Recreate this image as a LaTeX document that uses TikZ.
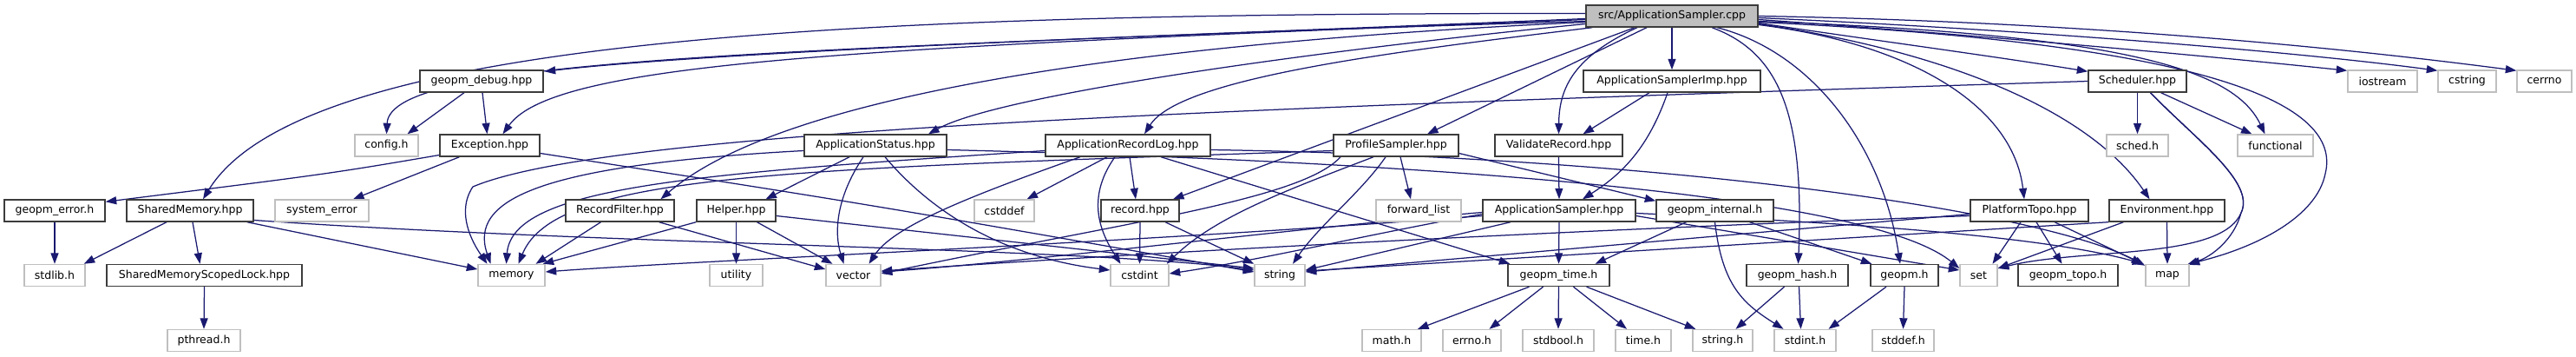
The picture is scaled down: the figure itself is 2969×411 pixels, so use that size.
\documentclass[tikz,border=0pt]{standalone}
\usepackage{fontspec}
\setmainfont{DejaVu Sans}
\usetikzlibrary{arrows.meta}
\definecolor{docb}{HTML}{3C3C3C}
\definecolor{extb}{HTML}{BFBFBF}
\definecolor{rootf}{HTML}{BFBFBF}
\definecolor{edgec}{HTML}{191970}
\pgfdeclarelayer{bg}
\pgfsetlayers{bg,main}
\tikzset{
  nbase/.style={rectangle, fill=white, line width=1.4pt, minimum height=25pt, inner sep=0pt, font=\fontsize{12.5}{14}\selectfont, text=black},
  doc/.style={nbase, draw=docb},
  ext/.style={nbase, draw=extb},
  rootn/.style={nbase, draw=docb, fill=rootf},
  e/.style={draw=edgec, line width=1.25pt, -{Triangle[length=12.5pt,width=9pt]}, fill=none}
}
\begin{document}
\begin{tikzpicture}[x=1pt,y=-1pt]
\useasboundingbox (0,0) rectangle (2969,411);
% row 0
\node[rootn, minimum width=198pt] (src) at (1927,18.5) {src/ApplicationSampler.cpp};
% row 1
\node[doc, minimum width=142pt] (gd) at (555,93.5) {geopm\_debug.hpp};
\node[doc, minimum width=204pt] (asi) at (1927,93.5) {ApplicationSamplerImp.hpp};
\node[doc, minimum width=113pt] (sc) at (2463.5,93.5) {Scheduler.hpp};
\node[ext, minimum width=80pt] (iostream) at (2746,93.5) {iostream};
\node[ext, minimum width=67pt] (cstring) at (2843.5,93.5) {cstring};
\node[ext, minimum width=63pt] (cerrno) at (2932.5,93.5) {cerrno};
% row 2
\node[ext, minimum width=73pt] (config) at (445.5,167.5) {config.h};
\node[doc, minimum width=115pt] (ex) at (564.5,167.5) {Exception.hpp};
\node[doc, minimum width=164pt] (as) at (1009,167.5) {ApplicationStatus.hpp};
\node[doc, minimum width=190pt] (arl) at (1300,167.5) {ApplicationRecordLog.hpp};
\node[doc, minimum width=144pt] (ps) at (1609,167.5) {ProfileSampler.hpp};
\node[doc, minimum width=147pt] (vr) at (1796.5,167.5) {ValidateRecord.hpp};
\node[ext, minimum width=71pt] (sched) at (2463.5,167.5) {sched.h};
\node[ext, minimum width=87pt] (functional) at (2622.5,167.5) {functional};
% row 3
\node[doc, minimum width=116pt] (geopmerror) at (63,242.5) {geopm\_error.h};
\node[doc, minimum width=146pt] (sm) at (219,242.5) {SharedMemory.hpp};
\node[ext, minimum width=108pt] (syserr) at (371,242.5) {system\_error};
\node[doc, minimum width=125pt] (rf) at (714.5,242.5) {RecordFilter.hpp};
\node[doc, minimum width=91pt] (hp) at (848.5,242.5) {Helper.hpp};
\node[ext, minimum width=69pt] (cstddef) at (1157.5,242.5) {cstddef};
\node[doc, minimum width=90pt] (rh) at (1314,242.5) {record.hpp};
\node[ext, minimum width=98pt] (forwardlist) at (1635,242.5) {forward\_list};
\node[doc, minimum width=176pt] (ash) at (1797,242.5) {ApplicationSampler.hpp};
\node[doc, minimum width=135pt] (gi) at (1976.5,242.5) {geopm\_internal.h};
\node[doc, minimum width=136pt] (pt) at (2339,242.5) {PlatformTopo.hpp};
\node[doc, minimum width=133pt] (en) at (2497.5,242.5) {Environment.hpp};
% row 4
\node[ext, minimum width=70pt] (stdlib) at (63,317) {stdlib.h};
\node[doc, minimum width=225pt] (smsl) at (235.5,317) {SharedMemoryScopedLock.hpp};
\node[ext, minimum width=77pt] (memory) at (589.5,317) {memory};
\node[ext, minimum width=61pt] (utility) at (848.5,317) {utility};
\node[ext, minimum width=63pt] (vector) at (983.5,317) {vector};
\node[ext, minimum width=67pt] (cstdint) at (1313.5,317) {cstdint};
\node[ext, minimum width=58pt] (string) at (1475,317) {string};
\node[doc, minimum width=117pt] (gt) at (1796.5,317) {geopm\_time.h};
\node[doc, minimum width=117pt] (gh) at (2071.5,317) {geopm\_hash.h};
\node[doc, minimum width=78pt] (gm) at (2195,317) {geopm.h};
\node[ext, minimum width=43pt] (set) at (2280.5,317) {set};
\node[doc, minimum width=115pt] (geopmtopo) at (2383.5,317) {geopm\_topo.h};
\node[ext, minimum width=50pt] (map) at (2498,317) {map};
% row 5
\node[ext, minimum width=84pt] (pthread) at (235,392) {pthread.h};
\node[ext, minimum width=68pt] (math) at (1604,392) {math.h};
\node[ext, minimum width=67pt] (errno) at (1696.5,392) {errno.h};
\node[ext, minimum width=82pt] (stdbool) at (1796,392) {stdbool.h};
\node[ext, minimum width=64pt] (timeh) at (1894,392) {time.h};
\node[ext, minimum width=69pt] (stringh) at (1985.5,392) {string.h};
\node[ext, minimum width=71pt] (stdint) at (2080.5,392) {stdint.h};
\node[ext, minimum width=71pt] (stddef) at (2193.5,392) {stddef.h};

\begin{pgfonlayer}{bg}
% from src
\draw[e] ([yshift=-6pt]src.west) .. controls (1300,40) and (800,62) .. ([xshift=1pt,yshift=-2pt]gd.north east);
\draw[e] ([yshift=-3pt]src.west) .. controls (900,60) and (450,65) .. (config.north);
\draw[e] ([yshift=-4pt]src.west) .. controls (1000,55) and (640,70) .. ([xshift=15pt]ex.north);
\draw[e] ([yshift=3pt]src.west) .. controls (1000,15) and (350,40) .. ([xshift=15pt]sm.north);
\draw[e] ([yshift=-9pt]src.west) .. controls (1500,60) and (1150,110) .. ([xshift=61pt]as.north);
\draw[e] ([xshift=8pt]src.south west) .. controls (1600,60) and (1360,90) .. ([xshift=19pt]arl.north);
\draw[e] ([yshift=-7pt]src.west) .. controls (1300,50) and (900,110) .. ([xshift=47pt]rf.north);
\draw[e] ([xshift=-43pt]src.south) -- ([xshift=38pt]rh.north);
\draw[e] ([xshift=-29pt]src.south) -- ([xshift=36pt]ps.north);
\draw[e] (src.south) -- (asi.north);
\draw[e] ([xshift=-40pt]src.south) .. controls (1815,65) and (1797,100) .. (vr.north);
\draw[e] ([xshift=46pt]src.south) .. controls (2050,60) and (2080,130) .. ([xshift=1pt]gh.north);
\draw[e] ([xshift=52pt]src.south) .. controls (2090,60) and (2170,170) .. ([xshift=-5pt]gm.north);
\draw[e] ([yshift=-10pt]src.east) .. controls (2200,50) and (2320,120) .. ([xshift=-6pt]pt.north);
\draw[e] ([yshift=-9pt]src.east) .. controls (2250,60) and (2410,130) .. ([xshift=-20pt]en.north);
\draw[e] ([yshift=-8pt]src.east) .. controls (2150,45) and (2300,65) .. ([yshift=-2pt]sc.north west);
\draw[e] ([yshift=-6pt]src.east) .. controls (2450,40) and (2575,80) .. ([xshift=-12pt]functional.north);
\draw[e] ([yshift=-4pt]src.east) .. controls (2300,42) and (2550,65) .. ([yshift=-1pt]iostream.north west);
\draw[e] ([yshift=-2pt]src.east) .. controls (2350,35) and (2650,60) .. ([yshift=-1pt]cstring.north west);
\draw[e] (src.east) .. controls (2400,25) and (2700,55) .. ([yshift=-1pt]cerrno.north west);
\draw[e] ([yshift=-7pt]src.east) .. controls (2550,50) and (2700,120) .. (2680,200) .. controls (2670,250) and (2600,285) .. ([xshift=-1pt]map.north east);
% Scheduler
\draw[e] (sc.south) -- (sched.north);
\draw[e] ([xshift=27pt]sc.south) -- ([xshift=-27pt]functional.north);
\draw[e] ([xshift=15pt]sc.south) .. controls (2530,160) and (2600,210) .. (2583,245) .. controls (2575,275) and (2550,295) .. ([xshift=-3pt,yshift=-1pt]map.north east);
\draw[e] ([xshift=15pt]sc.south) .. controls (2530,160) and (2600,210) .. (2583,245) .. controls (2560,300) and (2400,285) .. ([yshift=8pt]set.east);
\draw[e] (sc.west) .. controls (1400,125) and (700,150) .. (545,215) .. controls (525,245) and (545,280) .. ([xshift=-28pt]memory.north);
% geopm_debug
\draw[e] ([xshift=-20pt]gd.south) -- ([xshift=24pt]config.north);
\draw[e] ([xshift=1pt]gd.south) -- ([xshift=-3pt]ex.north);
% Exception
\draw[e] ([yshift=-11pt]ex.west) .. controls (380,200) .. ([yshift=-3pt]geopmerror.north east);
\draw[e] ([xshift=-35pt]ex.south) -- ([xshift=36pt]syserr.north);
\draw[e] ([yshift=-9pt]ex.east) .. controls (1000,235) .. ([yshift=4pt]string.west);
% SharedMemory
\draw[e] ([xshift=-27pt]sm.south) -- ([xshift=-2pt]stdlib.north east);
\draw[e] ([xshift=3pt]sm.south) -- ([xshift=-5pt]smsl.north);
\draw[e] ([xshift=-8pt]sm.south east) -- ([yshift=7pt]memory.west);
\draw[e] ([yshift=-11pt]sm.east) .. controls (700,282) and (1250,285) .. ([yshift=6pt]string.west);
\draw[e] (geopmerror.south) -- (stdlib.north);
\draw[e] (smsl.south) -- (pthread.north);
% RecordFilter
\draw[e] ([xshift=-22pt]rf.south) -- ([xshift=28pt]memory.north);
\draw[e] ([xshift=45pt]rf.south) -- ([yshift=7pt]vector.west);
% Helper
\draw[e] (hp.south) -- (utility.north);
\draw[e] ([xshift=24pt]hp.south) -- ([xshift=-24pt]vector.north);
\draw[e] ([yshift=-6pt]hp.east) -- ([yshift=8pt]string.west);
\draw[e] (hp.south west) -- ([xshift=-3pt]memory.north east);
% ApplicationStatus
\draw[e] ([xshift=-30pt]as.south) -- ([xshift=34pt]hp.north);
\draw[e] ([xshift=-14pt]as.south) .. controls (962,230) and (962,270) .. ([xshift=-11pt]vector.north);
\draw[e] ([xshift=11pt]as.south) .. controls (1070,240) and (1150,295) .. ([yshift=6pt]cstdint.west);
\draw[e] ([yshift=-5pt]as.east) .. controls (1600,185) and (2150,220) .. ([yshift=8pt]set.west);
\draw[e] ([yshift=-6pt]as.west) .. controls (620,190) and (540,230) .. ([xshift=-24pt]memory.north);
% ApplicationRecordLog
\draw[e] ([xshift=-55pt]arl.south) .. controls (1120,225) and (1030,260) .. ([xshift=18pt]vector.north);
\draw[e] ([xshift=-24pt]arl.south) -- ([xshift=26pt]cstddef.north);
\draw[e] ([xshift=-15pt]arl.south) .. controls (1250,230) and (1270,270) .. ([xshift=-22pt]cstdint.north);
\draw[e] ([xshift=2pt]arl.south) -- ([xshift=-5pt]rh.north);
\draw[e] ([xshift=38pt]arl.south) -- ([xshift=3pt]gt.north west);
\draw[e] ([yshift=-5pt]arl.east) .. controls (1900,180) and (2350,240) .. ([yshift=-2pt]map.north west);
\draw[e] ([yshift=-6pt]arl.west) .. controls (800,200) and (590,215) .. ([xshift=-6pt]memory.north);
% record
\draw[e] (rh.south) -- (cstdint.north);
\draw[e] ([xshift=29pt]rh.south) -- (string.north west);
% ProfileSampler
\draw[e] ([xshift=5pt]ps.south) -- ([xshift=-9pt]forwardlist.north);
\draw[e] ([xshift=-12pt]ps.south) .. controls (1570,220) and (1520,260) .. ([xshift=15pt]string.north);
\draw[e] ([xshift=-26pt]ps.south) .. controls (1480,220) and (1400,250) .. ([xshift=-3pt]cstdint.north east);
\draw[e] ([xshift=-64pt]ps.south) .. controls (1500,230) and (1300,255) .. ([yshift=2pt]vector.east);
\draw[e] ([yshift=-9pt]ps.east) -- ([yshift=-2pt]gi.north west);
\draw[e] ([yshift=-6pt]ps.west) .. controls (900,195) and (640,200) .. ([xshift=8pt]memory.north);
% ValidateRecord / Imp
\draw[e] (vr.south) -- (ash.north);
\draw[e] ([xshift=-26pt]asi.south) -- ([xshift=28pt]vr.north);
\draw[e] ([xshift=-5pt]asi.south) .. controls (1900,170) and (1870,200) .. ([xshift=27pt]ash.north);
% ApplicationSampler.hpp
\draw[e] (ash.south) -- (gt.north);
\draw[e] ([xshift=-56pt]ash.south) -- ([yshift=6pt]string.east);
\draw[e] ([yshift=-4pt]ash.west) .. controls (1600,265) and (1450,300) .. ([yshift=2pt]cstdint.east);
\draw[e] ([yshift=-2pt]ash.west) .. controls (1500,262) and (1200,300) .. ([yshift=4pt]vector.east);
\draw[e] ([yshift=-6pt]ash.west) .. controls (1300,280) and (800,300) .. ([yshift=4pt]memory.east);
\draw[e] ([yshift=-6pt]ash.east) -- ([yshift=6pt]set.west);
\draw[e] ([yshift=-3pt]ash.east) .. controls (2100,255) and (2350,270) .. ([xshift=-2pt]map.north west);
% geopm_internal
\draw[e] ([xshift=-33pt]gi.south) -- ([xshift=42pt]gt.north);
\draw[e] (gi.south) .. controls (1985,330) and (2010,350) .. ([xshift=-25pt]stdint.north);
\draw[e] ([xshift=40pt]gi.south) -- ([xshift=2pt]gm.north west);
% geopm_time
\draw[e] ([xshift=-34pt]gt.south) -- ([xshift=30pt]math.north);
\draw[e] ([xshift=-18pt]gt.south) -- ([xshift=20pt]errno.north);
\draw[e] (gt.south) -- (stdbool.north);
\draw[e] ([xshift=17pt]gt.south) -- ([xshift=-19pt]timeh.north);
\draw[e] ([xshift=32pt]gt.south) -- ([xshift=4pt]stringh.north west);
% geopm_hash, geopm.h
\draw[e] ([xshift=-15pt]gh.south) -- ([xshift=15pt]stringh.north);
\draw[e] ([xshift=2pt]gh.south) -- ([xshift=-5pt]stdint.north);
\draw[e] ([xshift=-21pt]gm.south) -- ([xshift=27pt]stdint.north);
\draw[e] (gm.south) -- (stddef.north);
% PlatformTopo
\draw[e] ([xshift=-10pt]pt.south) -- ([xshift=16pt]set.north);
\draw[e] ([xshift=8pt]pt.south) -- ([xshift=-7pt]geopmtopo.north);
\draw[e] ([xshift=29pt]pt.south) -- ([xshift=-3pt]map.north west);
\draw[e] ([yshift=-4pt]pt.west) -- ([yshift=4pt]string.east);
\draw[e] ([yshift=-6pt]pt.west) .. controls (1800,265) and (1300,292) .. ([yshift=5pt]vector.east);
% Environment
\draw[e] ([xshift=-50pt]en.south) -- ([yshift=8pt]set.east);
\draw[e] (en.south) -- (map.north);
\draw[e] (en.south west) -- ([yshift=5pt]string.east);
\end{pgfonlayer}
\end{tikzpicture}
\end{document}
